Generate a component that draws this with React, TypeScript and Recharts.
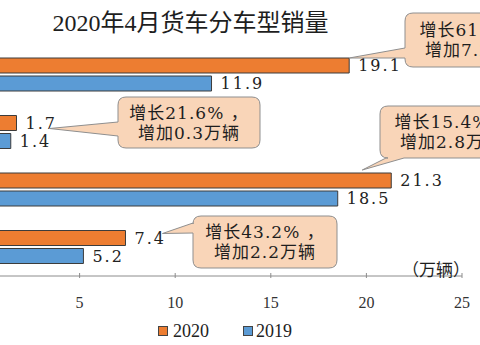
import { BarChart, Bar, XAxis, YAxis, LabelList, Legend } from "recharts";

const categories = ["重型货车", "中型货车", "轻型货车", "微型货车"];
const sales2020 = [19.1, 1.7, 21.3, 7.4];
const sales2019 = [11.9, 1.4, 18.5, 5.2];
const noteLines = [
  ["增长61.4%，", "增加7.2万辆"],
  ["增长21.6% ，", "增加0.3万辆"],
  ["增长15.4%，", "增加2.8万辆"],
  ["增长43.2% ，", "增加2.2万辆"],
];
const xTicks = [0, 5, 10, 15, 20, 25];

const data = categories.map((name, i) => ({
  name,
  y2020: sales2020[i],
  y2019: sales2019[i],
}));

// chart is shifted left so the category labels fall outside the picture
const SHIFT = 86;
const ORANGE = "#ED7D31";
const BLUE = "#5B9BD5";
const FONT = "'Liberation Serif', 'Noto Sans CJK SC', serif";
const NUM_FONT = "'DejaVu Serif', 'Noto Sans CJK SC', serif";

// callout boxes (page coords), tail base and tip offset from the bar end
const callouts = [
  { x: 405, y: 13, w: 142, h: 54, side: "left", a: 48, b: 58, dx: 0, dy: 0 },
  { x: 118, y: 97, w: 142, h: 51, side: "left", a: 122, b: 136, dx: 33, dy: 13 },
  { x: 380, y: 106, w: 142, h: 52, side: "bottom", a: 386, b: 404, dx: -29, dy: -3 },
  { x: 193, y: 216, w: 144, h: 52, side: "left", a: 223, b: 233, dx: 37, dy: 3 },
];

function calloutPath(c: any, tx: number, ty: number) {
  const r = 8;
  const x = c.x + SHIFT;
  const { y, w, h } = c;
  let d = `M${x + r},${y} H${x + w - r} Q${x + w},${y} ${x + w},${y + r} V${y + h - r} Q${x + w},${y + h} ${x + w - r},${y + h}`;
  if (c.side === "bottom") {
    d += ` H${c.b + SHIFT} L${tx},${ty} L${c.a + SHIFT},${y + h}`;
  }
  d += ` H${x + r} Q${x},${y + h} ${x},${y + h - r}`;
  if (c.side === "left") {
    d += ` V${c.b} L${tx},${ty} L${x},${c.a}`;
  }
  d += ` V${y + r} Q${x},${y} ${x + r},${y} Z`;
  return d;
}

const Callout = (props: any) => {
  const { x, y, width, index } = props;
  const c = callouts[index];
  if (!c) return null;
  const tx = x + width + c.dx;
  const ty = y + c.dy;
  const cx = c.x + SHIFT + c.w / 2;
  const cy = c.y + c.h / 2;
  const textProps = {
    x: cx,
    textAnchor: "middle" as const,
    dominantBaseline: "central" as const,
    fontSize: 17,
    letterSpacing: 1,
    fontFamily: NUM_FONT,
    fill: "#1e1e1e",
  };
  return (
    <g>
      <path d={calloutPath(c, tx, ty)} fill="#F9D5B8" stroke="#8f8f8f" strokeWidth={1} />
      <text {...textProps} y={cy - 10}>{noteLines[index][0]}</text>
      <text {...textProps} y={cy + 10}>{noteLines[index][1]}</text>
    </g>
  );
};

const XTick = (props: any) => {
  const { x, y, payload } = props;
  return (
    <g>
      <line x1={x} x2={x} y1={y - 5} y2={y} stroke="#8c8c8c" />
      <text x={x} y={y + 30} textAnchor="middle" fontSize={16} fontFamily={FONT} fill="#333">
        {payload.value}
      </text>
    </g>
  );
};

const LegendContent = () => (
  <div style={{ display: "flex", alignItems: "center", marginTop: 8, fontFamily: FONT, fontSize: 18, color: "#222", lineHeight: "20px" }}>
    <span style={{ width: 8, height: 8, background: ORANGE, border: "1px solid #444", marginRight: 5 }} />
    <span style={{ marginRight: 34 }}>2020</span>
    <span style={{ width: 8, height: 8, background: BLUE, border: "1px solid #444", marginRight: 3 }} />
    <span>2019</span>
  </div>
);

export default function App() {
  return (
    <div style={{ position: "absolute", left: 0, top: 0, width: 480, height: 345, overflow: "hidden", background: "#fff" }}>
      <div style={{ position: "absolute", left: 0, top: 8, width: 381, textAlign: "center", fontFamily: FONT, fontSize: 24, lineHeight: "30px", color: "#1e1e1e" }}>
        2020年4月货车分车型销量
      </div>
      <div style={{ position: "absolute", left: -SHIFT, top: 0 }}>
        <BarChart
          width={568}
          height={345}
          data={data}
          layout="vertical"
          margin={{ top: 46, right: 20, bottom: 2, left: 0 }}
          barSize={15}
          barGap={3}
        >
          <XAxis
            type="number"
            domain={[0, 25]}
            ticks={xTicks}
            height={30}
            tickSize={0}
            tickLine={false}
            axisLine={{ stroke: "#8c8c8c" }}
            tick={<XTick />}
            interval={0}
          />
          <YAxis type="category" dataKey="name" width={70} axisLine={false} tickLine={false} />
          <Legend verticalAlign="bottom" height={30} content={<LegendContent />} wrapperStyle={{ left: SHIFT + 158, width: 200, paddingTop: 7 }} />
          <Bar dataKey="y2020" fill={ORANGE} stroke="#3c3c3c" strokeWidth={1} isAnimationActive={false}>
            <LabelList dataKey="y2020" position="right" offset={9} fontSize={16} letterSpacing={2} fontFamily={NUM_FONT} fill="#222" />
            <LabelList dataKey="y2020" content={<Callout />} />
          </Bar>
          <Bar dataKey="y2019" fill={BLUE} stroke="#3c3c3c" strokeWidth={1} isAnimationActive={false}>
            <LabelList dataKey="y2019" position="right" offset={9} fontSize={16} letterSpacing={2} fontFamily={NUM_FONT} fill="#222" />
          </Bar>
        </BarChart>
      </div>
      <div style={{ position: "absolute", left: 402, top: 261, fontFamily: FONT, fontSize: 17, lineHeight: "20px", color: "#1e1e1e" }}>
        （万辆）
      </div>
    </div>
  );
}
